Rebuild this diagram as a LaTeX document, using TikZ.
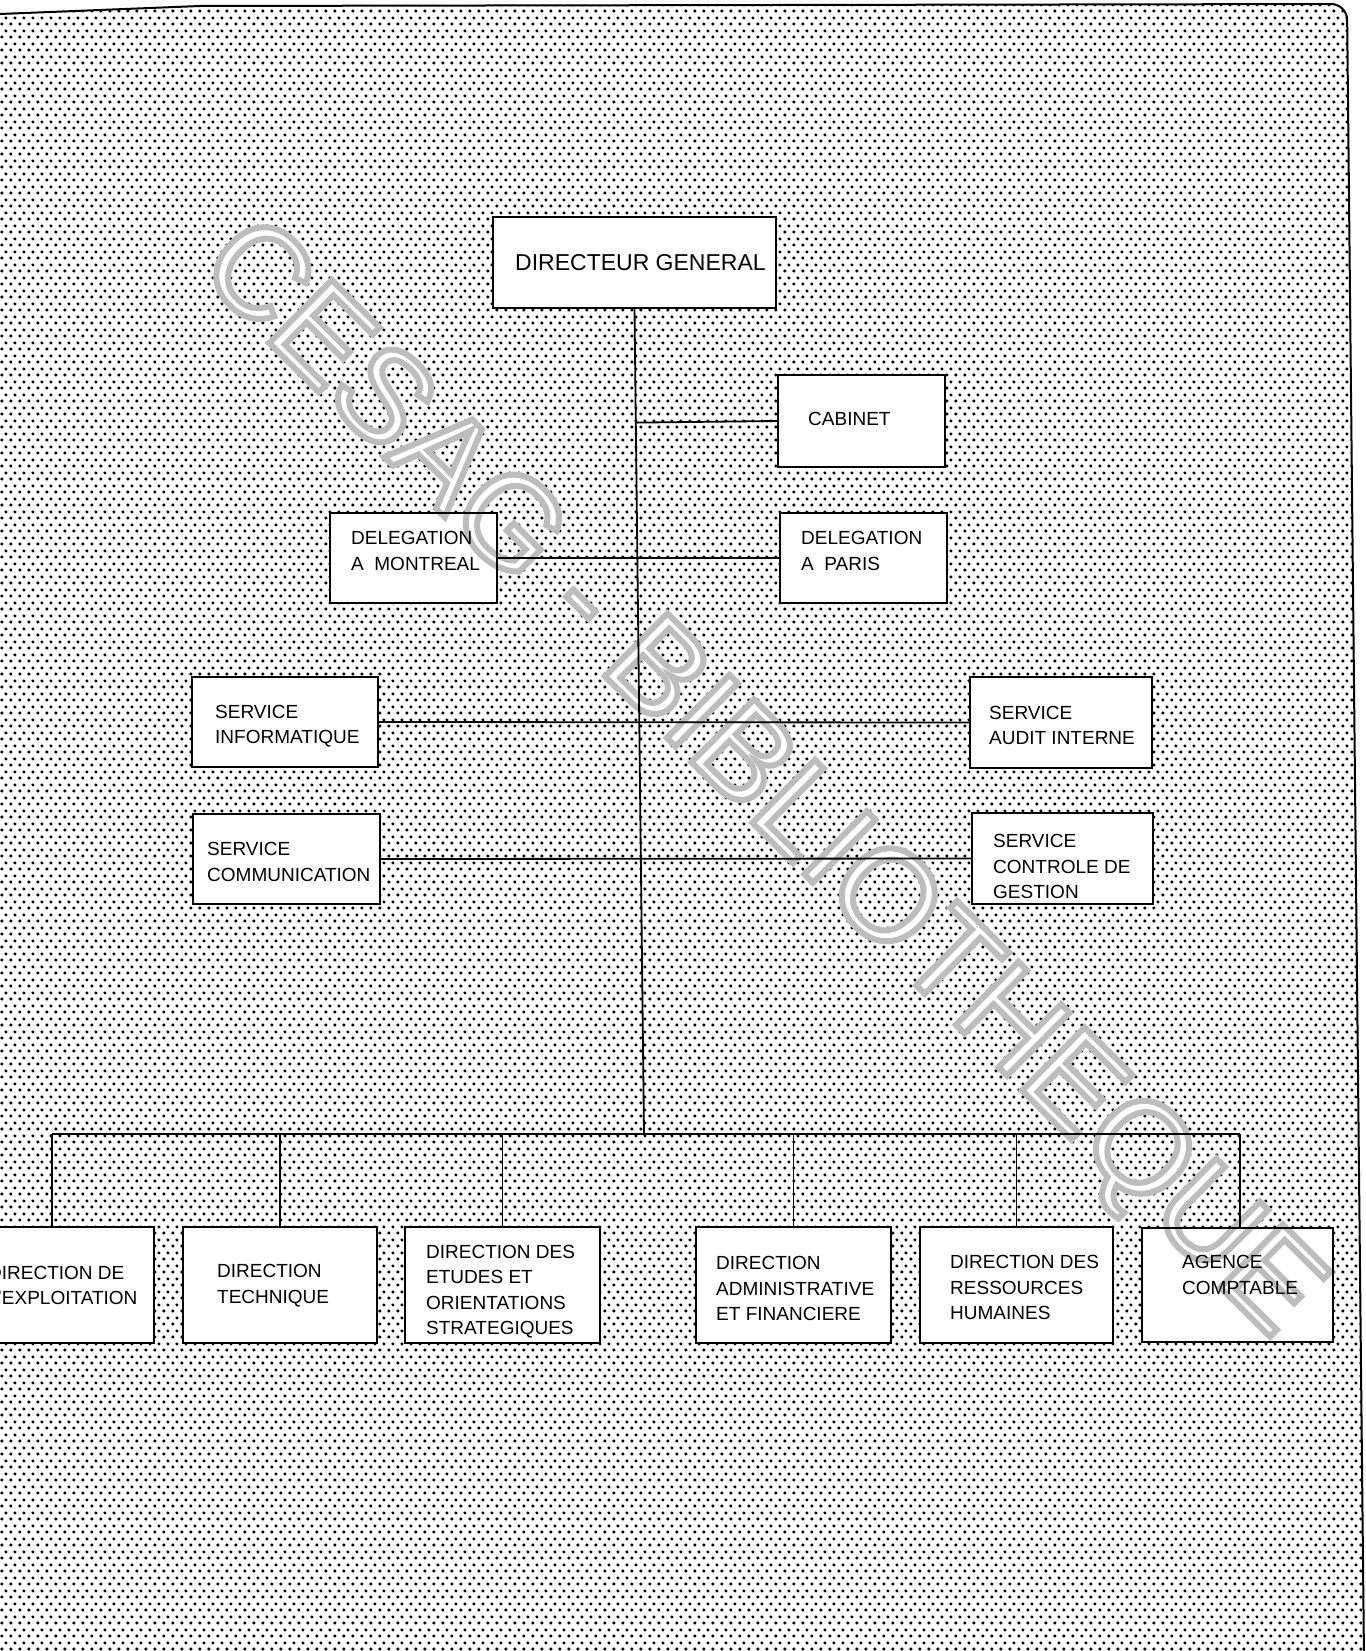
\documentclass[tikz,border=0pt]{standalone}
\usepackage{fontspec}
\setmainfont{Liberation Sans}
\usetikzlibrary{patterns,calc}
\pgfdeclarelayer{bg}\pgfdeclarelayer{wm}
\pgfsetlayers{bg,wm,main}
\pgfdeclarepatternformonly{hexdots}{\pgfpointorigin}{\pgfpoint{8.5pt}{13pt}}{\pgfpoint{8.5pt}{13pt}}{%
 \pgfpathcircle{\pgfpoint{2pt}{3.25pt}}{1.8pt}%
 \pgfpathcircle{\pgfpoint{6.25pt}{9.75pt}}{1.8pt}%
 \pgfusepath{fill}}
\tikzset{
 box/.style={draw, line width=2.2pt, inner sep=0pt, rectangle},
 txt/.style={anchor=west, align=left, inner sep=0pt, font=\fontsize{19}{25.5}\selectfont},
 link/.style={draw, line width=1.8pt},
}
\newcommand\placebox[5]{\node[box, minimum width={#4-#2}, minimum height={#5-#3}] (#1) at ({(#2+#4)/2},{(#3+#5)/2}) {};}
\begin{document}
\begin{tikzpicture}[x=1pt,y=-1pt]
\useasboundingbox (0,0) rectangle (1365,1651);
\begin{pgfonlayer}{bg}
\fill[white] (0,0) rectangle (1365,1651);
\path[pattern=hexdots] (0,1660) -- (0,14) -- (200,6) [rounded corners=16pt] -- (1347,4) -- (1364,1660) [sharp corners] -- cycle;
\end{pgfonlayer}
\draw[line width=2pt] (0,14) -- (200,6) [rounded corners=16pt] -- (1347,4) -- (1364,1660);
% boxes
\placebox{dg}{493}{217}{776}{308}
\placebox{cab}{778}{375}{945}{467}
\placebox{delm}{330}{513}{497}{603}
\placebox{delp}{780}{513}{947}{603}
\placebox{sinfo}{192}{677}{378}{767}
\placebox{saudit}{970}{677}{1152}{768}
\placebox{scomm}{193}{814}{380}{904}
\placebox{scg}{972}{813}{1153}{904}
\placebox{de}{-45}{1227}{154}{1343}
\placebox{dt}{183}{1227}{377}{1343}
\placebox{deos}{405}{1227}{600}{1343}
\placebox{daf}{696}{1227}{891}{1343}
\placebox{drh}{920}{1227}{1113}{1343}
\placebox{ac}{1142}{1228}{1333}{1342}
\begin{pgfonlayer}{bg}
\foreach \n in {dg,cab,delm,delp,sinfo,saudit,scomm,scg,de,dt,deos,daf,drh,ac}
  \fill[white] (\n.south west) rectangle (\n.north east);
\end{pgfonlayer}
% texts
\node[txt, font=\fontsize{23}{28}\selectfont] (dg-t) at (515,263) {DIRECTEUR GENERAL};
\node[txt] (cab-t) at (808,419) {CABINET};
\node[txt] (delm-t) at (351,551) {DELEGATION\\A\ \ MONTREAL};
\node[txt] (delp-t) at (801,551) {DELEGATION\\A\ \ PARIS};
\node[txt] (sinfo-t) at (215,726) {SERVICE\\INFORMATIQUE};
\node[txt] (saudit-t) at (989,725.5) {SERVICE\\AUDIT INTERNE};
\node[txt] (scomm-t) at (207,862) {SERVICE\\COMMUNICATION};
\node[txt] (scg-t) at (993,866.5) {SERVICE\\CONTROLE DE\\GESTION};
\node[txt] (de-t) at (-12,1285.5) {DIRECTION DE\\L'EXPLOITATION};
\node[txt] (dt-t) at (217,1285.5) {DIRECTION\\TECHNIQUE};
\node[txt] (deos-t) at (426,1291.5) {DIRECTION DES\\ETUDES ET\\ORIENTATIONS\\STRATEGIQUES};
\node[txt] (daf-t) at (716,1288.5) {DIRECTION\\ADMINISTRATIVE\\ET FINANCIERE};
\node[txt] (drh-t) at (950,1287.5) {DIRECTION DES\\RESSOURCES\\HUMAINES};
\node[txt] (ac-t) at (1182,1275) {AGENCE\\COMPTABLE};
% connectors
\coordinate (busT) at (644,1134);
\coordinate (busL) at (52,1134);
\coordinate (busR) at (1240,1134);
\draw[link] (dg.south) -- (busT);
\draw[link] ($(dg.south)!(cab.west)!(busT)$) -- (cab.west);
\draw[link] (delm.east) -- (delp.west);
\draw[link] (sinfo.east) -- (saudit.west);
\draw[link] (scomm.east) -- (scg.west);
\draw[link] (busL) -- (busR);
\draw[link] (busL) -- (busL |- de.north);
\foreach \n in {dt,deos,daf,drh}
  \draw[link] (\n.north |- busL) -- (\n.north);
\draw[link] (busR) -- (busR |- ac.north);
% watermark
\begin{pgfonlayer}{wm}
\node[rotate=-44.8, inner sep=0pt, font=\fontsize{129}{129}\selectfont] (wm) at (758,782) {\color{white}\special{pdf:literal direct 2 Tr 0.74 G 6 w}CESAG - BIBLIOTHEQUE\special{pdf:literal direct 0 Tr}};
\end{pgfonlayer}
\end{tikzpicture}
\end{document}
